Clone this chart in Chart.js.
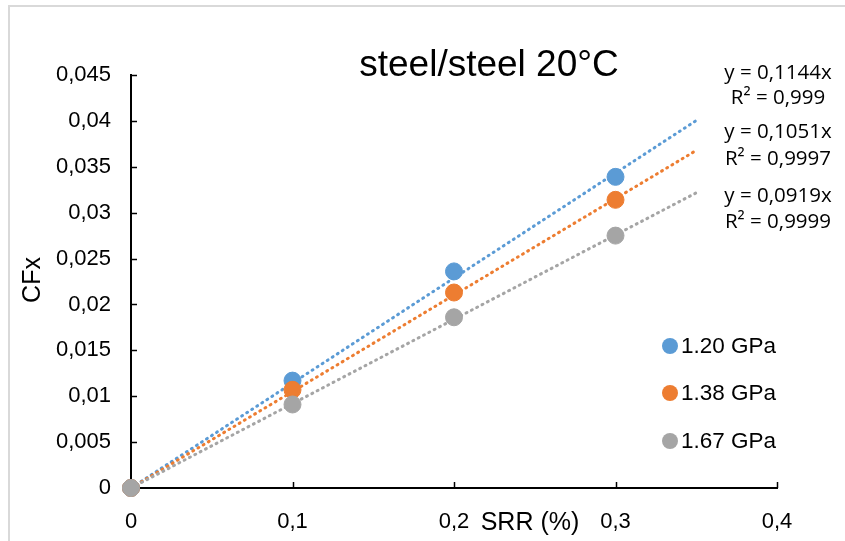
<!DOCTYPE html>
<html>
<head>
<meta charset="utf-8">
<script src="https://cdn.jsdelivr.net/npm/chart.js@4.4.1/dist/chart.umd.min.js"></script>
<style>
  html, body { margin: 0; padding: 0; background: #fff; }
  #wrap { width: 845px; height: 541px; position: relative; }
</style>
</head>
<body>
<div id="wrap"><canvas id="chart"></canvas></div>
<script>
// ---- data ----
const srrValues = [0, 0.1, 0.2, 0.3];
const seriesNames = ["1.20 GPa", "1.38 GPa", "1.67 GPa"];
const cfx120 = [0, 0.0117, 0.0236, 0.0339];
const cfx138 = [0, 0.0107, 0.0213, 0.0314];
const cfx167 = [0, 0.0091, 0.0186, 0.0275];
const trendSlopes = [0.1144, 0.1051, 0.0919];
const trendEquations = ["y = 0,1144x", "y = 0,1051x", "y = 0,0919x"];
const trendR2 = ["R² = 0,999", "R² = 0,9997", "R² = 0,9999"];
const trendRangeX = [0, 0.35];
const chartTitle = "steel/steel 20°C";
const xTitle = "SRR (%)";
const yTitle = "CFx";

const colors = ["#5b9bd5", "#ed7d31", "#a5a5a5"];
const seriesValues = [cfx120, cfx138, cfx167];
const FONT = "'Liberation Sans', Arial, sans-serif";

function fmt(v) {
    return String(Math.round(v * 1000) / 1000).replace(".", ",");
}

// trendlines first (drawn below), then markers
const datasets = [];
trendSlopes.forEach((m, i) => {
    datasets.push({
        type: "line",
        label: "trend " + seriesNames[i],
        data: trendRangeX.map(x => ({ x: x, y: m * x })),
        borderColor: colors[i],
        borderWidth: 3,
        borderDash: [1, 5],
        borderCapStyle: "round",
        pointRadius: 0,
        fill: false,
        clip: false,
        order: 10 - i
    });
});
seriesValues.forEach((vals, i) => {
    datasets.push({
        type: "scatter",
        label: seriesNames[i],
        data: srrValues.map((x, k) => ({ x: x, y: vals[k] })),
        backgroundColor: colors[i],
        borderColor: colors[i],
        pointRadius: 8.5,
        pointHoverRadius: 8.5,
        clip: false,
        order: 3 - i
    });
});

// extra drawing: inward ticks, texts, legend, frame
const decorPlugin = {
    id: "decor",
    beforeDatasetsDraw(chart) {
        const ctx = chart.ctx;
        const a = chart.chartArea;
        const xs = chart.scales.x, ys = chart.scales.y;
        ctx.save();
        ctx.strokeStyle = "#000";
        ctx.lineWidth = 1.5;
        ys.ticks.forEach(t => {
            const y = Math.round(ys.getPixelForValue(t.value)) + 0.5;
            ctx.beginPath(); ctx.moveTo(a.left, y); ctx.lineTo(a.left + 6, y); ctx.stroke();
        });
        xs.ticks.forEach(t => {
            const x = Math.round(xs.getPixelForValue(t.value)) + 0.5;
            ctx.beginPath(); ctx.moveTo(x, a.bottom); ctx.lineTo(x, a.bottom - 6); ctx.stroke();
        });
        ctx.restore();
    },
    afterDraw(chart) {
        const ctx = chart.ctx;
        ctx.save();
        // light frame
        ctx.strokeStyle = "#d9d9d9";
        ctx.lineWidth = 2;
        ctx.beginPath();
        ctx.moveTo(9, 541); ctx.lineTo(9, 6); ctx.lineTo(845, 6);
        ctx.stroke();

        ctx.fillStyle = "#000";
        // title
        ctx.font = "37px " + FONT;
        ctx.textAlign = "center";
        ctx.textBaseline = "middle";
        ctx.fillText(chartTitle, 489, 66);

        // axis titles
        ctx.font = "25px " + FONT;
        ctx.fillText(xTitle, 530, 523);
        ctx.save();
        ctx.translate(33, 280);
        ctx.rotate(-Math.PI / 2);
        ctx.fillText(yTitle, 0, 0);
        ctx.restore();

        // trendline equations
        ctx.font = "20.5px 'Open Sans', 'Noto Sans', sans-serif";
        const eqY = [[73, 98], [132, 159], [196, 222]];
        trendEquations.forEach((eq, i) => {
            ctx.fillText(eq, 778, eqY[i][0]);
            ctx.fillText(trendR2[i], 778, eqY[i][1]);
        });

        // legend
        ctx.font = "22.5px " + FONT;
        ctx.textAlign = "left";
        const legY = [346, 393, 441];
        seriesNames.forEach((name, i) => {
            ctx.fillStyle = colors[i];
            ctx.beginPath();
            ctx.arc(670, legY[i], 8, 0, Math.PI * 2);
            ctx.fill();
            ctx.fillStyle = "#000";
            ctx.fillText(name, 681, legY[i] + 1);
        });
        ctx.restore();
    }
};

const chart = new Chart(document.getElementById("chart"), {
    type: "scatter",
    data: { datasets: datasets },
    options: {
        responsive: true,
        maintainAspectRatio: false,
        animation: false,
        events: [],
        layout: { padding: { top: 75, right: 68, left: 0, bottom: 0 } },
        plugins: {
            legend: { display: false },
            tooltip: { enabled: false }
        },
        scales: {
            x: {
                type: "linear",
                min: 0,
                max: 0.4,
                afterFit(s) { s.height = 53; },
                grid: { display: false, drawTicks: false },
                border: { display: true, color: "#000", width: 2 },
                ticks: {
                    stepSize: 0.1,
                    padding: 21,
                    color: "#000",
                    font: { family: FONT, size: 22 },
                    callback: v => fmt(v)
                }
            },
            y: {
                type: "linear",
                min: 0,
                max: 0.045,
                afterFit(s) { s.width = 131; },
                grid: { display: false, drawTicks: false },
                border: { display: true, color: "#000", width: 2 },
                ticks: {
                    stepSize: 0.005,
                    padding: 20,
                    color: "#000",
                    font: { family: FONT, size: 22 },
                    callback: v => fmt(v)
                }
            }
        }
    },
    plugins: [decorPlugin]
});
</script>
</body>
</html>
